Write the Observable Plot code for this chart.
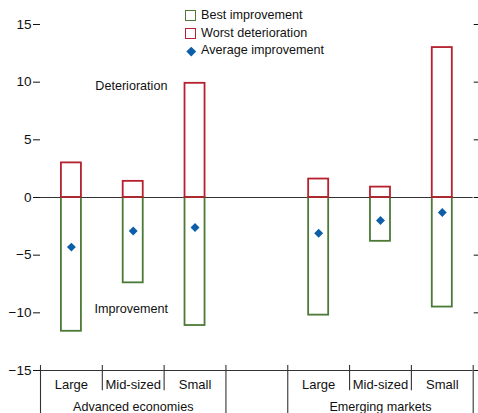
<!DOCTYPE html>
<html><head><meta charset="utf-8">
<script src="https://cdn.jsdelivr.net/npm/d3@7"></script>
<script src="https://cdn.jsdelivr.net/npm/@observablehq/plot@0.6"></script>
<style>
body{margin:0;background:#fff;}
#wrap{position:relative;width:478px;height:413px;font-family:"Liberation Sans Narrow","Arial Narrow","Liberation Sans",sans-serif;}
#legend{position:absolute;left:185px;top:7px;font-size:12.6px;color:#111;line-height:17.5px;}
#legend .row{display:flex;align-items:center;height:17.5px;}
#legend .sw{width:9px;height:9px;border:1.6px solid;margin-right:5px;box-sizing:content-box;}
#legend .dm{width:12px;height:12px;margin-right:4px;display:flex;align-items:center;justify-content:center;}
#legend .dm span{display:block;width:6.5px;height:6.5px;background:#0c5ea8;transform:rotate(45deg);}
svg{font-family:"Liberation Sans Narrow","Arial Narrow","Liberation Sans",sans-serif;}
</style></head><body>
<div id="wrap"><div id="legend">
<div class="row"><div class="sw" style="border-color:#4b7a36"></div>Best improvement</div>
<div class="row"><div class="sw" style="border-color:#b5212e"></div>Worst deterioration</div>
<div class="row"><div class="dm"><span></span></div>Average improvement</div>
</div></div>
<script>
const categories = ["Large","Mid-sized","Small","","Large","Mid-sized","Small"];
const groups = ["Advanced economies","Emerging markets"];
const groupSlots = [[0,3],[4,7]];
const best = [-11.6,-7.4,-11.1,null,-10.2,-3.8,-9.5];
const worst = [3.0,1.4,9.9,null,1.6,0.9,13.0];
const average = [-4.3,-2.9,-2.6,null,-3.1,-2.0,-1.3];
const yTicks = [-15,-10,-5,0,5,10,15];

const green = "#4b7a36", red = "#b5212e", blue = "#0c5ea8";
const rows = categories.map((c,i)=>({i, c, best:best[i], worst:worst[i], avg:average[i]})).filter(d=>d.c!=="");
const bounds = d3.range(0,8);
const groupBounds = [0,3,4,7];
const innerBounds = bounds.filter(b=>!groupBounds.includes(b));
const w = 0.162;

const plot = Plot.plot({
  width: 478, height: 413,
  marginLeft: 40, marginRight: 5.3, marginTop: 0, marginBottom: 43,
  x: {type:"linear", domain:[0,7], axis:null},
  y: {domain:[-15,17.08], ticks: yTicks},
  style:{fontSize:"13.5px", color:"#111", background:"#fff", overflow:"visible"},
  marks: [
    Plot.axisY({ticks:yTicks, tickSize:7, tickPadding:2, fontSize:13.5, tickFormat:d=>String(d).replace("-","\u2212")}),
    Plot.axisY({ticks:yTicks, anchor:"right", tickSize:6, text:null, label:null}),
    Plot.ruleY([0], {stroke:"#333", strokeWidth:1.2}),
    Plot.ruleY([-15], {stroke:"#333", strokeWidth:1.2}),
    Plot.rectY(rows, {x1:d=>d.i+0.5-w, x2:d=>d.i+0.5+w, y1:0, y2:"best", fill:"none", stroke:green, strokeWidth:1.8}),
    Plot.rectY(rows, {x1:d=>d.i+0.5-w, x2:d=>d.i+0.5+w, y1:0, y2:"worst", fill:"none", stroke:red, strokeWidth:1.8}),
    Plot.dot(rows, {x:d=>d.i+0.5, y:"avg", symbol:"diamond2", r:4, fill:blue}),
    Plot.ruleX(innerBounds, {y1:-14.57, y2:-16.75, stroke:"#333", strokeWidth:1.1}),
    Plot.ruleX(groupBounds, {y1:-14.57, y2:-18.75, stroke:"#333", strokeWidth:1.1}),
    Plot.text(rows, {x:d=>d.i+0.5, y:-15, text:"c", dy:14, fontSize:13, fill:"#111"}),
    Plot.text(groups, {x:(d,i)=>(groupSlots[i][0]+groupSlots[i][1])/2, y:-15, text:d=>d, dy:36, fontSize:12.6, fill:"#111"}),
    Plot.text(["Deterioration"], {x:1.47, y:9.7, text:d=>d, fontSize:12.6, fill:"#111"}),
    Plot.text(["Improvement"], {x:1.47, y:-9.7, text:d=>d, fontSize:12.6, fill:"#111"})
  ]
});
document.getElementById("wrap").prepend(plot);
</script>
</body></html>
